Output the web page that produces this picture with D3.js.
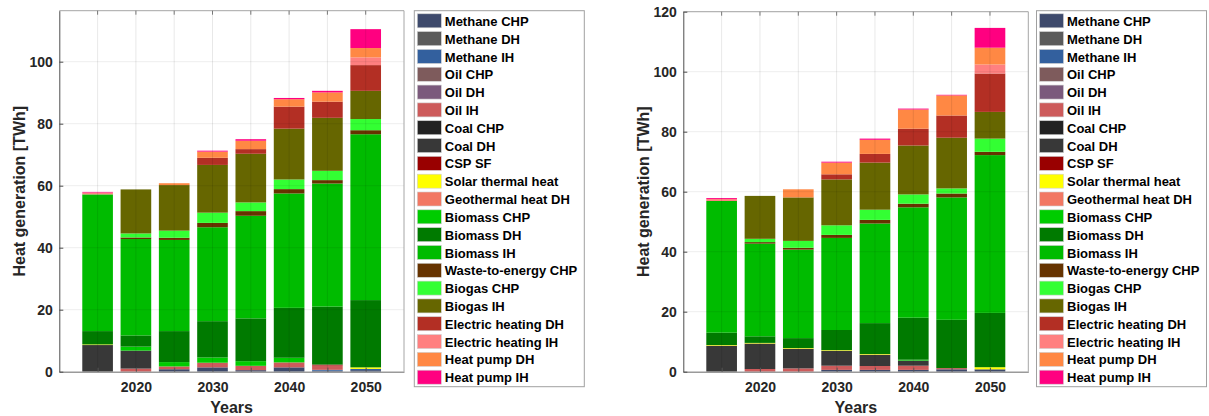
<!DOCTYPE html>
<html>
<head>
<meta charset="utf-8">
<script src="https://cdn.jsdelivr.net/npm/d3@7"></script>
<style>
  html, body { margin: 0; padding: 0; background: #fff; }
  svg { display: block; font-family: "Liberation Sans", Arial, Helvetica, sans-serif; }
</style>
</head>
<body>
<svg id="chart" width="1209" height="416"></svg>
<script>
// Years on the x axis
const years = [2015, 2020, 2025, 2030, 2035, 2040, 2045, 2050];

// Technology names, in stacking / legend order
const techNames = [
  "Methane CHP", "Methane DH", "Methane IH", "Oil CHP", "Oil DH", "Oil IH",
  "Coal CHP", "Coal DH", "CSP SF", "Solar thermal heat", "Geothermal heat DH",
  "Biomass CHP", "Biomass DH", "Biomass IH", "Waste-to-energy CHP",
  "Biogas CHP", "Biogas IH", "Electric heating DH", "Electric heating IH",
  "Heat pump DH", "Heat pump IH"
];

const techColors = [
  "#3e4a6c", "#5b5b5b", "#33609e", "#7e5b5c", "#7b5a7c", "#cd5b5b",
  "#222222", "#383838", "#990000", "#ffff00", "#f27863",
  "#00cc00", "#007a00", "#00bb00", "#663300",
  "#33ff33", "#666600", "#b32f24", "#ff8080",
  "#ff8844", "#ff0080"
];

// Heat generation [TWh], scenario shown in the left panel
const methaneCHP_A   = [0, 0, 0.8, 1.4, 0.5, 1.4, 0.3, 0.5];
const methaneDH_A    = [0, 0, 0, 0, 0, 0, 0, 0];
const methaneIH_A    = [0, 0, 0, 0, 0, 0, 0.3, 0.4];
const oilCHP_A       = [0, 0, 0, 0, 0, 0, 0, 0];
const oilDH_A        = [0, 0, 0, 0, 0, 0, 0, 0];
const oilIH_A        = [0, 1.0, 0.9, 1.5, 1.4, 1.6, 1.4, 0];
const coalCHP_A      = [0, 0, 0, 0, 0, 0, 0, 0];
const coalDH_A       = [8.6, 5.8, 0, 0, 0, 0, 0, 0];
const cspSF_A        = [0, 0, 0, 0, 0, 0, 0.3, 0];
const solarHeat_A    = [0.2, 0, 0, 0, 0, 0, 0, 0.5];
const geothermalDH_A = [0, 0, 0, 0, 0, 0, 0, 0];
const biomassCHP_A   = [0, 1.3, 1.4, 1.7, 1.5, 1.5, 0, 0];
const biomassDH_A    = [4.3, 3.6, 10.0, 11.7, 13.8, 16.1, 18.7, 21.7];
const biomassIH_A    = [44.1, 31.1, 29.4, 30.3, 33.1, 36.9, 39.7, 53.5];
const wasteCHP_A     = [0, 0.5, 0.7, 1.4, 1.5, 1.4, 1.1, 1.3];
const biogasCHP_A    = [0, 1.3, 2.3, 3.3, 2.8, 3.1, 3.0, 3.6];
const biogasIH_A     = [0, 14.2, 14.7, 15.4, 15.7, 16.4, 17.1, 9.1];
const elecDH_A       = [0, 0, 0, 2.3, 1.5, 7.1, 5.2, 8.3];
const elecIH_A       = [0.6, 0, 0, 0, 0, 0, 0, 2.5];
const heatPumpDH_A   = [0, 0, 0.6, 2.0, 2.7, 2.4, 3.0, 3.0];
const heatPumpIH_A   = [0.2, 0, 0, 0.3, 0.5, 0.4, 0.5, 6.1];

// Heat generation [TWh], scenario shown in the right panel
const methaneCHP_B   = [0, 0, 0, 0.6, 0.6, 0.6, 0.8, 0.8];
const methaneDH_B    = [0, 0, 0, 0, 0, 0, 0, 0];
const methaneIH_B    = [0, 0, 0, 0, 0, 0, 0, 0];
const oilCHP_B       = [0, 0, 0, 0, 0, 0, 0, 0];
const oilDH_B        = [0, 0, 0, 0, 0, 0, 0, 0];
const oilIH_B        = [0, 0.9, 1.1, 1.4, 1.3, 1.4, 0.4, 0];
const coalCHP_B      = [0, 0, 0, 0, 0, 0, 0, 0];
const coalDH_B       = [8.7, 8.5, 6.6, 5.0, 3.8, 1.7, 0, 0];
const cspSF_B        = [0, 0, 0, 0, 0, 0, 0, 0];
const solarHeat_B    = [0.2, 0.2, 0.2, 0.2, 0.2, 0, 0, 0.7];
const geothermalDH_B = [0, 0, 0, 0, 0, 0, 0, 0];
const biomassCHP_B   = [0, 0, 0, 0, 0, 0.3, 0, 0];
const biomassDH_B    = [4.1, 2.2, 3.3, 6.7, 10.3, 14.0, 16.1, 18.1];
const biomassIH_B    = [43.9, 30.9, 29.5, 30.7, 33.2, 36.8, 40.8, 52.6];
const wasteCHP_B     = [0, 0.5, 0.6, 1.0, 1.2, 1.2, 1.3, 1.1];
const biogasCHP_B    = [0, 1.1, 2.3, 3.2, 3.4, 3.1, 1.7, 4.4];
const biogasIH_B     = [0, 14.3, 14.5, 15.3, 15.7, 16.3, 16.9, 8.9];
const elecDH_B       = [0, 0, 0, 1.7, 2.9, 5.6, 7.4, 12.8];
const elecIH_B       = [0.7, 0, 0, 0, 0, 0, 0, 3.0];
const heatPumpDH_B   = [0, 0, 2.7, 3.9, 4.7, 6.4, 6.7, 5.6];
const heatPumpIH_B   = [0.3, 0, 0, 0.3, 0.4, 0.3, 0.2, 6.6];

const seriesA = [methaneCHP_A, methaneDH_A, methaneIH_A, oilCHP_A, oilDH_A, oilIH_A,
  coalCHP_A, coalDH_A, cspSF_A, solarHeat_A, geothermalDH_A, biomassCHP_A, biomassDH_A,
  biomassIH_A, wasteCHP_A, biogasCHP_A, biogasIH_A, elecDH_A, elecIH_A, heatPumpDH_A, heatPumpIH_A];
const seriesB = [methaneCHP_B, methaneDH_B, methaneIH_B, oilCHP_B, oilDH_B, oilIH_B,
  coalCHP_B, coalDH_B, cspSF_B, solarHeat_B, geothermalDH_B, biomassCHP_B, biomassDH_B,
  biomassIH_B, wasteCHP_B, biogasCHP_B, biogasIH_B, elecDH_B, elecIH_B, heatPumpDH_B, heatPumpIH_B];

const yTicks = [0, 20, 40, 60, 80, 100, 120];
const xTickLabels = [2020, 2030, 2040, 2050];

const svg = d3.select("#chart");

function toRows(series) {
  return years.map((yr, i) => {
    const row = { year: yr };
    techNames.forEach((name, k) => { row[name] = series[k][i]; });
    return row;
  });
}

function drawPanel(series, opt) {
  const g = svg.append("g");
  const x = d3.scaleLinear().domain([2010, 2055]).range([opt.left, opt.right]);
  const y = d3.scaleLinear().domain([0, opt.yMax]).range([opt.bottom, opt.top]);
  const barW = (x(2015) - x(2010)) * 0.8;

  const stack = d3.stack().keys(techNames);
  const layers = stack(toRows(series));

  // stacked bars
  g.selectAll("g.layer").data(layers).join("g")
    .attr("class", "layer")
    .attr("fill", (d, i) => techColors[i])
    .selectAll("rect").data(d => d).join("rect")
    .attr("x", d => x(d.data.year) - barW / 2)
    .attr("width", barW)
    .attr("y", d => y(d[1]))
    .attr("height", d => Math.max(0, y(d[0]) - y(d[1])));

  // grid drawn over the bars, as a light translucent layer
  const gridX = d3.range(2015, 2051, 5);
  const yGrid = yTicks.filter(v => v <= opt.yMax);
  g.append("g").selectAll("line").data(gridX).join("line")
    .attr("x1", d => x(d)).attr("x2", d => x(d))
    .attr("y1", opt.top).attr("y2", opt.bottom)
    .attr("stroke", "#000").attr("stroke-opacity", 0.09);
  g.append("g").selectAll("line").data(yGrid.filter(v => v > 0)).join("line")
    .attr("x1", opt.left).attr("x2", opt.right)
    .attr("y1", d => y(d)).attr("y2", d => y(d))
    .attr("stroke", "#000").attr("stroke-opacity", 0.07);

  // box
  g.append("line").attr("x1", opt.left).attr("x2", opt.right).attr("y1", opt.top).attr("y2", opt.top)
    .attr("stroke", "#a6a6a6");
  g.append("line").attr("x1", opt.right).attr("x2", opt.right).attr("y1", opt.top).attr("y2", opt.bottom)
    .attr("stroke", "#a6a6a6");

  // axes with inward ticks
  const xAxis = d3.axisBottom(x).tickValues(gridX)
    .tickFormat(d => xTickLabels.includes(d) ? d : "")
    .tickSizeInner(-4).tickSizeOuter(0).tickPadding(10.5);
  const gx = g.append("g").attr("transform", `translate(0,${opt.bottom})`).call(xAxis);
  gx.select(".domain").attr("stroke", "#9a9a9a").attr("stroke-width", 1.5);
  gx.selectAll(".tick line").attr("stroke", "#555");
  gx.selectAll("text").attr("fill", "#262626").attr("font-size", 14).attr("font-weight", "bold");

  const yAxis = d3.axisLeft(y).tickValues(yGrid)
    .tickSizeInner(-4).tickSizeOuter(0).tickPadding(6.5);
  const gy = g.append("g").attr("transform", `translate(${opt.left},0)`).call(yAxis);
  gy.select(".domain").attr("stroke", "#4d4d4d");
  gy.selectAll(".tick line").attr("stroke", "#4d4d4d");
  gy.selectAll("text").attr("fill", "#262626").attr("font-size", 14).attr("font-weight", "bold");

  // top ticks
  g.append("g").selectAll("line").data(gridX).join("line")
    .attr("x1", d => x(d)).attr("x2", d => x(d))
    .attr("y1", opt.top).attr("y2", opt.top + 4).attr("stroke", "#777");

  // axis titles
  g.append("text")
    .attr("x", (opt.left + opt.right) / 2).attr("y", 413)
    .attr("text-anchor", "middle").attr("font-size", 16).attr("font-weight", "bold")
    .attr("fill", "#262626").text("Years");
  g.append("text")
    .attr("transform", `translate(${opt.left - 40},${(opt.top + opt.bottom) / 2}) rotate(-90)`)
    .attr("dy", "0.35em")
    .attr("text-anchor", "middle").attr("font-size", 16).attr("font-weight", "bold")
    .attr("fill", "#262626").text("Heat generation [TWh]");

  // legend
  const lg = g.append("g").attr("transform", `translate(${opt.legendX},10.7)`);
  lg.append("rect").attr("x", 0).attr("y", 0).attr("width", 170).attr("height", 376)
    .attr("fill", "#fff").attr("stroke", "#a0a0a0");
  const rows = lg.selectAll("g.item").data(techNames).join("g")
    .attr("class", "item")
    .attr("transform", (d, i) => `translate(0,${10.6 + i * 17.82})`);
  rows.append("rect").attr("x", 3).attr("y", -7.5).attr("width", 24).attr("height", 14)
    .attr("fill", (d, i) => techColors[i]).attr("stroke", "#d0d0d0").attr("stroke-width", 0.6);
  rows.append("text").attr("x", 30.5).attr("y", 4.6)
    .attr("font-size", 13).attr("font-weight", "bold").attr("fill", "#000")
    .text(d => d);
}

drawPanel(seriesA, { left: 59.3, right: 404, top: 10.7, bottom: 371.7, yMax: 116.45, legendX: 414.3 });
drawPanel(seriesB, { left: 683.3, right: 1028.3, top: 11.7, bottom: 371.7, yMax: 120, legendX: 1036.5 });
</script>
</body>
</html>
